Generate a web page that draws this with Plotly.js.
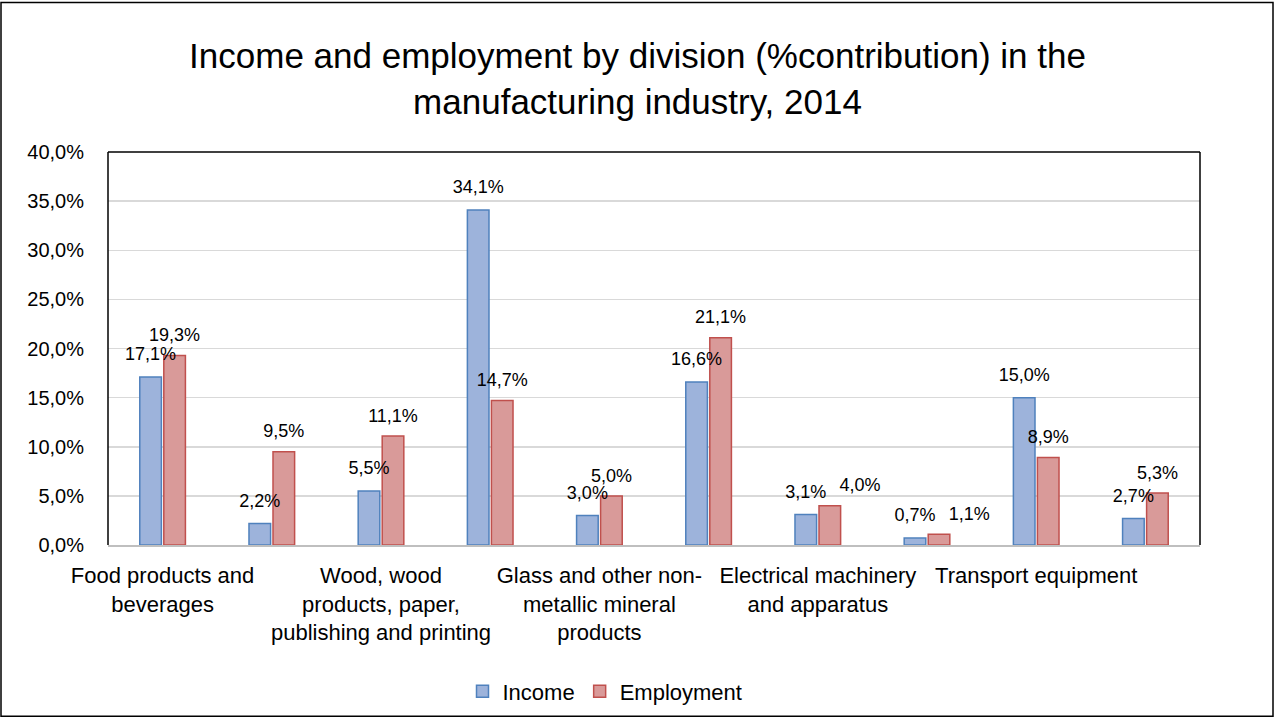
<!DOCTYPE html>
<html>
<head>
<meta charset="utf-8">
<script src="https://cdn.plot.ly/plotly-3.0.1.min.js"></script>
<style>
  html, body { margin: 0; padding: 0; background: #ffffff; }
  #chart { width: 1275px; height: 724px; }
</style>
</head>
<body>
<div id="chart"></div>
<script>
// Categories (Excel shows only every other label)
const categories = [
  "Food products and beverages",
  "Textiles, wearing apparel and leather",
  "Wood, wood products, paper, publishing and printing",
  "Chemicals, pharmaceuticals, rubber and plastic products",
  "Glass and other non-metallic mineral products",
  "Basic metals and fabricated metal products",
  "Electrical machinery and apparatus",
  "Machinery and equipment n.e.c.",
  "Transport equipment",
  "Furniture, other manufacturing and repair"
];
const tickCategories = [categories[0], categories[2], categories[4], categories[6], categories[8]];
const tickLabels = [
  "Food products and<br>beverages",
  "Wood, wood<br>products, paper,<br>publishing and printing",
  "Glass and other non-<br>metallic mineral<br>products",
  "Electrical machinery<br>and apparatus",
  "Transport equipment"
];
const income = [17.1, 2.2, 5.5, 34.1, 3.0, 16.6, 3.1, 0.7, 15.0, 2.7];
const employment = [19.3, 9.5, 11.1, 14.7, 5.0, 21.1, 4.0, 1.1, 8.9, 5.3];
const seriesNames = ["Income", "Employment"];
// label placement (Excel nudged two employment labels sideways to avoid collisions)
const employmentLabelPos = ["top center", "top center", "top center", "top center", "top center",
                            "top center", "top right", "top right", "top center", "top center"];

const FONT = "Liberation Sans, Arial, sans-serif";

const traces = [
  {
    type: "bar", name: seriesNames[0], x: categories, y: income,
    offsetgroup: "a",
    marker: { color: "#9db3db", line: { color: "#4f81bd", width: 1.5 } },
    hoverinfo: "skip"
  },
  {
    type: "bar", name: seriesNames[1], x: categories, y: employment,
    offsetgroup: "b",
    marker: { color: "#d99a99", line: { color: "#c0504d", width: 1.5 } },
    hoverinfo: "skip"
  },
  {
    type: "scatter", mode: "markers+text", x: categories, y: income,
    offsetgroup: "a", showlegend: false, cliponaxis: false,
    marker: { size: 18, opacity: 0 },
    texttemplate: "%{y:.1f}%", textposition: "top center",
    textfont: { family: FONT, size: 18, color: "#000000" },
    hoverinfo: "skip"
  },
  {
    type: "scatter", mode: "markers+text", x: categories, y: employment,
    offsetgroup: "b", showlegend: false, cliponaxis: false,
    marker: { size: 14, opacity: 0 },
    texttemplate: "%{y:.1f}%", textposition: employmentLabelPos,
    textfont: { family: FONT, size: 18, color: "#000000" },
    hoverinfo: "skip"
  }
];

const L = 108, R = 75, T = 152, B = 175;
const W = 1275, H = 724;
const pw = W - L - R, ph = H - T - B;

const layout = {
  width: W, height: H,
  margin: { l: L, r: R, t: T, b: B, pad: 0 },
  paper_bgcolor: "#ffffff",
  plot_bgcolor: "#ffffff",
  separators: ",.",
  font: { family: FONT, color: "#000000" },
  barmode: "group",
  scattermode: "group",
  bargap: 0.56,
  bargroupgap: 0.1,
  title: {
    text: "Income and employment by division (%contribution) in the<br>manufacturing industry, 2014",
    font: { family: FONT, size: 35, color: "#000000" },
    xref: "container", x: 0.5, xanchor: "center",
    yref: "container", y: 1 - 68 / H, yanchor: "top"
  },
  xaxis: {
    type: "category",
    tickmode: "array",
    tickvals: tickCategories,
    ticktext: tickLabels,
    ticks: "",
    ticklabelstandoff: 10,
    tickfont: { family: FONT, size: 22, color: "#000000" },
    showline: true, linecolor: "#bfbfbf", linewidth: 1.5,
    showgrid: false, zeroline: false, fixedrange: true
  },
  yaxis: {
    range: [0, 40],
    dtick: 5,
    tickformat: ".1f",
    ticksuffix: "%",
    ticks: "",
    ticklabelstandoff: 23,
    tickfont: { family: FONT, size: 20, color: "#000000" },
    showgrid: true, gridcolor: "#d9d9d9", gridwidth: 1.5,
    zeroline: false, showline: false, fixedrange: true
  },
  legend: {
    orientation: "h",
    x: 0.5 - (654 - 605) / pw, xanchor: "center",
    y: (549 - 697) / ph, yanchor: "middle",
    font: { family: FONT, size: 22, color: "#000000" },
    itemwidth: 30,
    traceorder: "normal"
  },
  shapes: [
    { type: "line", xref: "paper", yref: "paper", x0: 0, x1: 0, y0: 0, y1: 1, line: { color: "#000000", width: 1.5 } },
    { type: "line", xref: "paper", yref: "paper", x0: 0, x1: 1, y0: 1, y1: 1, line: { color: "#000000", width: 1.5 } },
    { type: "line", xref: "paper", yref: "paper", x0: 1, x1: 1, y0: 0, y1: 1, line: { color: "#000000", width: 1.5 } },
    { type: "rect", xref: "paper", yref: "paper",
      x0: (1 - L) / pw, x1: (W - 2 - L) / pw,
      y0: (T + ph - (H - 2)) / ph, y1: (T + ph - 1) / ph,
      line: { color: "#000000", width: 1.5 }, fillcolor: "rgba(0,0,0,0)" }
  ]
};

Plotly.newPlot("chart", traces, layout, { displayModeBar: false, staticPlot: true });
</script>
</body>
</html>
